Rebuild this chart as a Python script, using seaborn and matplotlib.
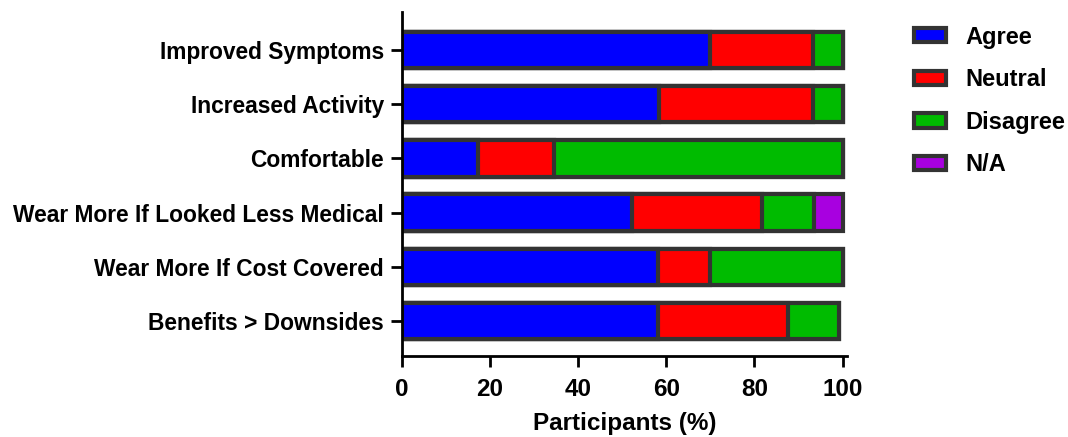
import matplotlib
matplotlib.use("Agg")
import matplotlib.pyplot as plt
import seaborn as sns
import pandas as pd
import numpy as np
from matplotlib.patches import Patch

categories = ["Improved Symptoms", "Increased Activity", "Comfortable",
              "Wear More If Looked Less Medical", "Wear More If Cost Covered",
              "Benefits > Downsides"]
series = ["Agree", "Neutral", "Disagree", "N/A"]
agree = [70.0, 58.3, 17.2, 52.2, 58.1, 58.1]
neutral = [23.3, 35.0, 17.4, 29.5, 11.7, 29.4]
disagree = [6.7, 6.7, 65.4, 11.7, 30.2, 11.6]
na = [0.0, 0.0, 0.0, 6.6, 0.0, 0.0]
colors = ["#0000FF", "#FF0000", "#00BB00", "#A800E0"]
x_ticks = [0, 20, 40, 60, 80, 100]

sns.set_style("ticks")
plt.rcParams['font.family'] = ['Liberation Sans', 'DejaVu Sans']
plt.rcParams['font.weight'] = 'bold'
plt.rcParams['text.color'] = 'black'
plt.rcParams['axes.labelcolor'] = 'black'
plt.rcParams['xtick.color'] = 'black'
plt.rcParams['ytick.color'] = 'black'

fig = plt.figure(figsize=(10.68, 4.37), dpi=100)
ax = fig.add_axes([402/1068, 1-356/437, 445/1068, 344/437])

vals = np.array([agree, neutral, disagree, na])
cum = np.cumsum(vals, axis=0)
edge = "#333333"
# draw cumulative bars from largest to smallest so each stack segment shows
for i in range(len(series) - 1, -1, -1):
    df = pd.DataFrame({"cat": categories, "val": cum[i]})
    sns.barplot(data=df, y="cat", x="val", orient="h", color=colors[i],
                saturation=1, edgecolor=edge, linewidth=3, width=0.67, ax=ax)

ax.set_xlim(0, 101)
ax.set_ylim(5.645, -0.70)
ax.set_xticks(x_ticks)
ax.set_xticklabels([str(t) for t in x_ticks], fontsize=17.5, fontweight='bold')
ax.set_yticks(range(len(categories)))
ax.set_yticklabels(categories, fontsize=16.4, fontweight='bold')
ax.set_ylabel("")
ax.set_xlabel("Participants (%)", fontsize=17.5, fontweight='bold', labelpad=8)
ax.tick_params(axis='both', width=2, length=8, color='black')
ax.tick_params(axis='y', pad=5)
ax.tick_params(axis='x', pad=8)
for s in ["left", "bottom"]:
    ax.spines[s].set_linewidth(2)
    ax.spines[s].set_color("black")
sns.despine(ax=ax)

handles = [Patch(facecolor=c, edgecolor=edge, linewidth=3, label=l)
           for c, l in zip(colors, series)]
leg = fig.legend(handles=handles, loc="upper left", bbox_to_anchor=(0.836, 0.99),
                 frameon=False, prop={'weight': 'bold', 'size': 17},
                 handlelength=1.36, handleheight=0.55, labelspacing=0.83,
                 handletextpad=0.8)

fig.savefig("out.png", dpi=100)
